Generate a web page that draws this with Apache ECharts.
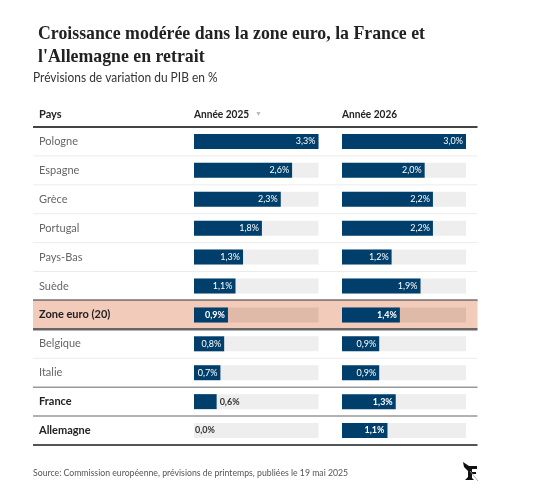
<!DOCTYPE html>
<html><head><meta charset="utf-8">
<script src="https://cdn.jsdelivr.net/npm/echarts@6.0.0/dist/echarts.min.js"></script>
<style>html,body{margin:0;padding:0;background:#fff}#c{width:542px;height:500px}</style>
</head><body><div id="c"></div>
<script>
const countries = ['Pologne','Espagne','Grèce','Portugal','Pays-Bas','Suède','Zone euro (20)','Belgique','Italie','France','Allemagne'];
const growth2025 = [3.3,2.6,2.3,1.8,1.3,1.1,0.9,0.8,0.7,0.6,0.0];
const growth2026 = [3.0,2.0,2.2,2.2,1.2,1.9,1.4,0.9,0.9,1.3,1.1];
const boldRows = ['Zone euro (20)','France','Allemagne'];
const highlightRow = 'Zone euro (20)';
const columnTitles = ['Pays','Année 2025','Année 2026'];
const titleText = "Croissance modérée dans la zone euro, la France et\nl'Allemagne en retrait";
const subtitleText = 'Prévisions de variation du PIB en %';
const sourceText = 'Source: Commission européenne, prévisions de printemps, publiées le 19 mai 2025';

const SANS = 'Lato, "Noto Sans", sans-serif';
const BAR = '#003f6b';
const fmt = v => v.toFixed(1).replace('.', ',') + '%';

function barData(values){
  const max = Math.max(...values);
  return values.map((v,i)=>{
    const bold = boldRows.includes(countries[i]);
    const inside = v/max >= 0.2;
    return {value:v, label:{show:true, position: inside?'insideRight':'right',
      distance: inside?3:(v===0?1:3), color: inside?'#fff':'#333',
      fontWeight: bold?'bold':'normal', fontSize:9, fontFamily:SANS, formatter: fmt(v)}};
  });
}
function trackData(values){
  const max = Math.max(...values);
  return values.map((v,i)=>({value:max, itemStyle:{color: countries[i]===highlightRow ? '#dfbaa9' : '#eeeeee'}}));
}

const chart = echarts.init(document.getElementById('c'), null, {renderer:'canvas'});
const gridTop = 127, gridH = 318;
const option = {
  animation:false,
  title:[
    {text:titleText, left:33, top:18, textStyle:{fontFamily:'"Liberation Serif", serif', fontWeight:'bold', fontSize:17.8, lineHeight:23, color:'#222'}}
  ],
  grid:[
    {left:194, top:gridTop, width:124.5, height:gridH},
    {left:342, top:gridTop, width:124, height:gridH},
    {left:33, top:gridTop, width:444.5, height:gridH}
  ],
  xAxis:[
    {gridIndex:0, type:'value', min:0, max:Math.max(...growth2025), show:false},
    {gridIndex:1, type:'value', min:0, max:Math.max(...growth2026), show:false},
    {gridIndex:2, type:'value', min:0, max:1, show:false}
  ],
  yAxis:[
    {gridIndex:0, type:'category', inverse:true, data:countries, axisLine:{show:false}, axisTick:{show:false},
      axisLabel:{align:'left', margin:155, fontFamily:SANS, fontSize:11,
        formatter: v => boldRows.includes(v) ? '{b|'+v+'}' : '{n|'+v+'}',
        rich:{n:{color:'#666', fontFamily:SANS, fontSize:11}, b:{color:'#222', fontWeight:'bold', fontFamily:SANS, fontSize:11}}}},
    {gridIndex:1, type:'category', inverse:true, data:countries, show:false},
    {gridIndex:2, type:'category', inverse:true, data:countries, show:false}
  ],
  series:[
    {type:'custom', xAxisIndex:2, yAxisIndex:2, z:0, silent:true,
      data: countries.map((c,i)=>[0,i]), encode:{x:0, y:1},
      renderItem(params, api){
        const i = api.value(1);
        const cs = params.coordSys;
        const c = api.coord([0, i]);
        const h = api.size([0, 1])[1];
        const top = c[1]-h/2, bot = c[1]+h/2;
        const name = countries[i], next = countries[i+1];
        const children = [];
        if (name === highlightRow) children.push({type:'rect', shape:{x:cs.x, y:top, width:cs.width, height:h}, style:{fill:'#f2cbbb'}});
        let stroke = '#ececec', lw = 1;
        if (i === countries.length-1) { stroke = '#555'; lw = 2; }
        else if (next === highlightRow) { stroke = '#333'; lw = 2; }
        else if (name === highlightRow) { stroke = '#666'; lw = 2.5; }
        else if (boldRows.includes(next) || boldRows.includes(name)) { stroke = '#999'; lw = 1.5; }
        children.push({type:'line', shape:{x1:cs.x, y1:bot, x2:cs.x+cs.width, y2:bot}, style:{stroke, lineWidth:lw}});
        if (i === 0) children.push({type:'line', shape:{x1:cs.x, y1:top, x2:cs.x+cs.width, y2:top}, style:{stroke:'#444', lineWidth:2}});
        return {type:'group', children};
      }},
    {type:'bar', xAxisIndex:0, yAxisIndex:0, barWidth:15, barGap:'-100%', silent:true, z:1, data:trackData(growth2025)},
    {type:'bar', xAxisIndex:0, yAxisIndex:0, barWidth:15, barGap:'-100%', z:2, itemStyle:{color:BAR}, data:barData(growth2025)},
    {type:'bar', xAxisIndex:1, yAxisIndex:1, barWidth:15, barGap:'-100%', silent:true, z:1, data:trackData(growth2026)},
    {type:'bar', xAxisIndex:1, yAxisIndex:1, barWidth:15, barGap:'-100%', z:2, itemStyle:{color:BAR}, data:barData(growth2026)}
  ],
  graphic:[
    {type:'text', x:33, y:78, scaleX:0.92, style:{text:subtitleText, font:'13px '+SANS, fill:'#333', verticalAlign:'middle', textVerticalAlign:'middle'}},
    {type:'text', x:33, y:473, scaleX:0.87, style:{text:sourceText, font:'10px '+SANS, fill:'#555', verticalAlign:'middle', textVerticalAlign:'middle'}},
    {type:'text', x:39, y:114, style:{text:columnTitles[0], font:'bold 11px '+SANS, fill:'#222', verticalAlign:'middle', textVerticalAlign:'middle'}},
    {type:'text', x:194, y:114, scaleX:0.92, style:{text:columnTitles[1], font:'bold 11px '+SANS, fill:'#222', verticalAlign:'middle', textVerticalAlign:'middle'}},
    {type:'text', x:255, y:114, style:{text:'▼', font:'7px '+SANS, fill:'#bbb', verticalAlign:'middle', textVerticalAlign:'middle'}},
    {type:'text', x:342, y:114, scaleX:0.92, style:{text:columnTitles[2], font:'bold 11px '+SANS, fill:'#222', verticalAlign:'middle', textVerticalAlign:'middle'}},
    {type:'polygon', shape:{points:[[463,462],[469,466],[477,466],[477,469],[472,469],[472,472],[476,472],[476,474],[472,474],[472,478],[474,480],[465,480],[468,477],[468,471],[464,467]]}, style:{fill:'#111'}},
    {type:'line', shape:{x1:470, y1:471, x2:478, y2:481}, style:{stroke:'#999', lineWidth:0.8}}
  ]
};
chart.setOption(option);
</script></body></html>
